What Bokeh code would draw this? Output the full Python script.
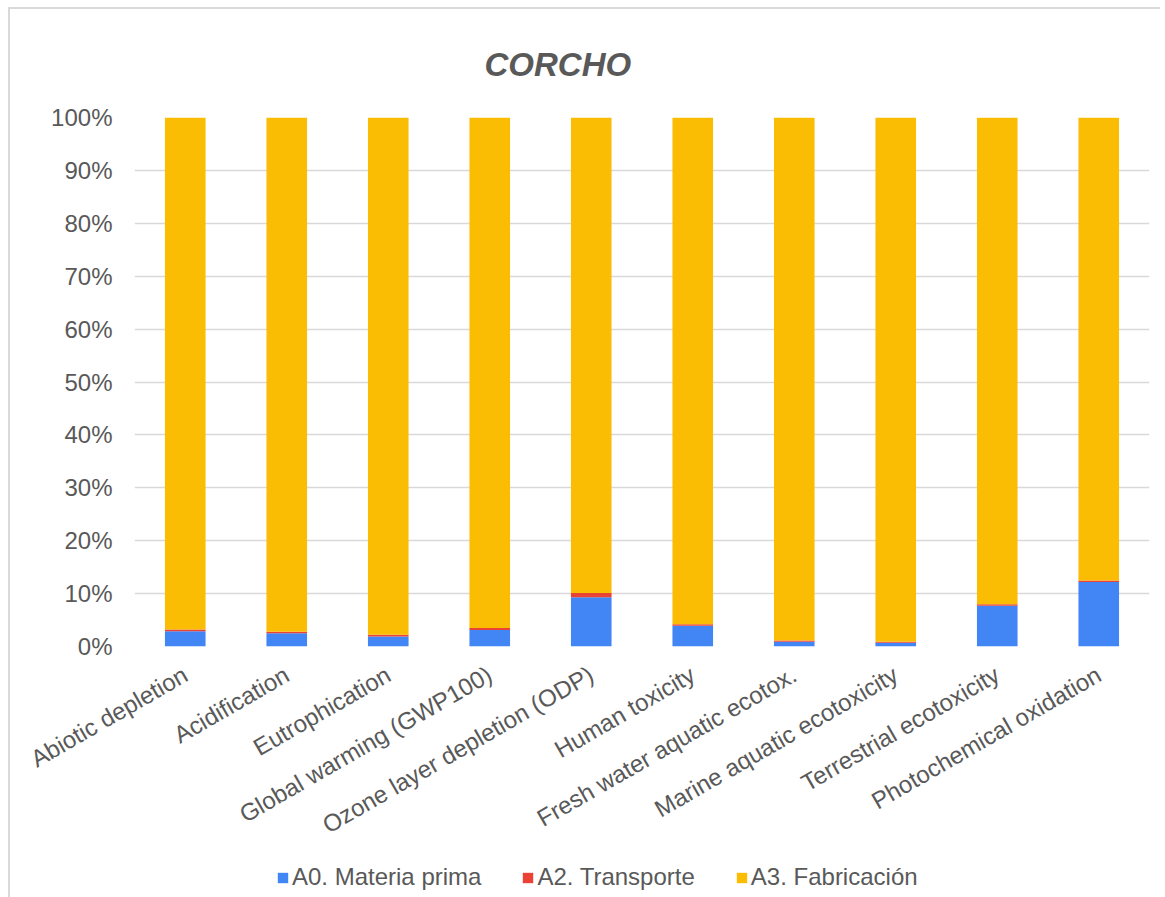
import math
from bokeh.plotting import figure
from bokeh.layouts import column
from bokeh.models import (ColumnDataSource, Range1d, NumeralTickFormatter, FixedTicker,
                          Legend, LegendItem, Title)
from bokeh.embed import file_html
from bokeh.resources import INLINE

categories = ["Abiotic depletion", "Acidification", "Eutrophication",
              "Global warming (GWP100)", "Ozone layer depletion (ODP)",
              "Human toxicity", "Fresh water aquatic ecotox.",
              "Marine aquatic ecotoxicity", "Terrestrial ecotoxicity",
              "Photochemical oxidation"]
a0_materia = [2.9, 2.5, 1.9, 3.1, 9.3, 3.9, 0.9, 0.7, 7.7, 12.2]
a2_transporte = [0.3, 0.3, 0.3, 0.4, 0.8, 0.3, 0.25, 0.2, 0.3, 0.3]
a3_fabricacion = [100 - a - b for a, b in zip(a0_materia, a2_transporte)]
series_names = ["A0. Materia prima", "A2. Transporte", "A3. Fabricación"]
series_keys = ["a0", "a2", "a3"]
colors = ["#4285F4", "#EA4335", "#FBBC04"]
y_ticks = [0, 0.1, 0.2, 0.3, 0.4, 0.5, 0.6, 0.7, 0.8, 0.9, 1.0]

src = ColumnDataSource(data=dict(
    cat=categories,
    a0=[v / 100 for v in a0_materia],
    a2=[v / 100 for v in a2_transporte],
    a3=[v / 100 for v in a3_fabricacion],
))

FONT = "Liberation Sans"
TXT = "#595959"

p = figure(x_range=categories, y_range=Range1d(0, 1),
           frame_width=1015, frame_height=529, output_backend="svg", toolbar_location=None,
           min_border_left=124, min_border_right=11, min_border_top=90,
           min_border_bottom=200)

renderers = p.vbar_stack(series_keys, x="cat", width=0.4, color=colors,
                         line_color=None, source=src)

p.title = Title(text="CORCHO", align="left", offset=350, standoff=69,
                text_font=FONT, text_font_size="33px", text_font_style="bold italic",
                text_color=TXT)

p.outline_line_color = None
p.xgrid.grid_line_color = None
p.ygrid.grid_line_color = "#d9d9d9"
p.ygrid.grid_line_width = 1.5
p.yaxis.ticker = FixedTicker(ticks=y_ticks)
p.yaxis.formatter = NumeralTickFormatter(format="0%")

for ax in (p.xaxis, p.yaxis):
    ax.axis_line_color = None
    ax.major_tick_line_color = None
    ax.minor_tick_line_color = None
    ax.major_label_text_font = FONT
    ax.major_label_text_font_size = "24px"
    ax.major_label_text_color = TXT
p.yaxis.major_label_standoff = 16
p.xaxis.major_label_standoff = 20
p.xaxis.major_label_orientation = math.pi / 6

# legend strip below the chart; its swatch renderers use the series data but
# sit outside this strip's visible range, so only the legend entries show
lp = figure(x_range=Range1d(10, 11), y_range=Range1d(10, 11), width=1150, height=50,
            output_backend="svg", toolbar_location=None,
            x_axis_location=None, y_axis_location=None,
            min_border_left=0, min_border_right=0, min_border_top=0, min_border_bottom=0)
lp.outline_line_color = None
lp.xgrid.visible = False
lp.ygrid.visible = False
swatches = [lp.vbar(x=k, top=k, width=0.01, source=src, fill_color=c, line_color=None)
            for k, c in zip(series_keys, colors)]
legend = Legend(items=[LegendItem(label=n, renderers=[r]) for n, r in zip(series_names, swatches)],
                orientation="horizontal", location=(142, 11),
                label_text_font=FONT, label_text_font_size="24px", label_text_color=TXT,
                glyph_width=13, glyph_height=13, label_standoff=3, spacing=40,
                border_line_color=None, background_fill_alpha=0, margin=0, padding=0)
lp.add_layout(legend, "center")

layout = column(p, lp, spacing=0,
                styles={"border-left": "2px solid #d9d9d9", "border-top": "2px solid #d9d9d9",
                        "margin-left": "8px", "margin-top": "7px"})

open("out.html", "w").write(file_html(layout, INLINE))
